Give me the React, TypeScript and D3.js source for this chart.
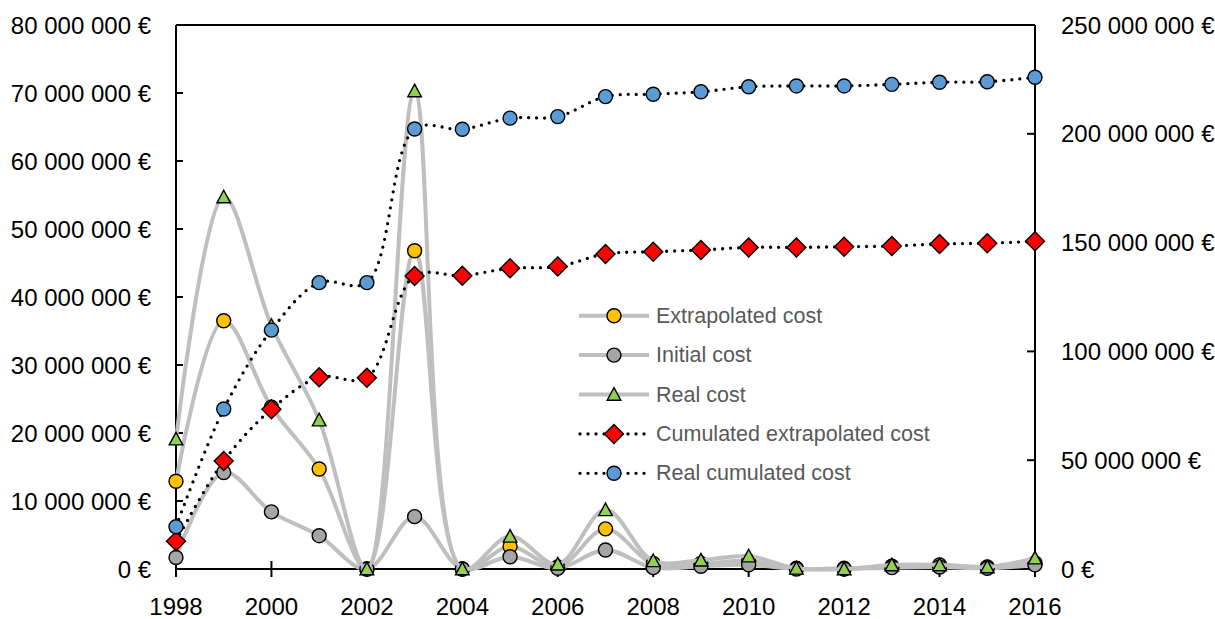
import React from "react";
import * as d3 from "d3";

const years = [1998, 1999, 2000, 2001, 2002, 2003, 2004, 2005, 2006, 2007, 2008, 2009, 2010, 2011, 2012, 2013, 2014, 2015, 2016];
// Values in millions of euros
const extrapolatedCost = [12.9, 36.5, 23.8, 14.7, 0, 46.8, 0, 3.3, 0.3, 5.9, 0.8, 0.8, 1.2, 0.1, 0.1, 0.4, 0.6, 0.3, 0.9];
const initialCost = [1.7, 14.2, 8.4, 4.9, 0, 7.7, 0, 1.8, 0.1, 2.8, 0.2, 0.4, 0.6, 0, 0, 0.2, 0.3, 0.1, 0.6];
const realCost = [19.1, 54.7, 35.8, 21.9, 0, 70.3, 0, 4.8, 0.7, 8.7, 1.2, 1.3, 1.9, 0.1, 0, 0.6, 0.6, 0.3, 1.6];
const cumulatedExtrapolated = [12.7, 49.6, 73.4, 88.1, 87.9, 134.7, 134.8, 138.2, 139.0, 144.8, 145.8, 146.6, 147.8, 147.8, 148.1, 148.4, 149.4, 149.7, 150.6];
const realCumulated = [19.4, 73.5, 109.8, 131.6, 131.6, 202.2, 202.1, 207.2, 207.9, 217.1, 218.2, 219.3, 221.6, 222.0, 222.0, 222.7, 223.7, 223.9, 226.0];

const leftTicks = [0, 10, 20, 30, 40, 50, 60, 70, 80];
const rightTicks = [0, 50, 100, 150, 200, 250];
const xTicks = [1998, 2000, 2002, 2004, 2006, 2008, 2010, 2012, 2014, 2016];

const legendItems = [
  { label: "Extrapolated cost", kind: "solid", marker: "circle", fill: "#FFC000" },
  { label: "Initial cost", kind: "solid", marker: "circle", fill: "#A5A5A5" },
  { label: "Real cost", kind: "solid", marker: "triangle", fill: "#92D050" },
  { label: "Cumulated extrapolated cost", kind: "dotted", marker: "diamond", fill: "#FF0000" },
  { label: "Real cumulated cost", kind: "dotted", marker: "circle", fill: "#5B9BD5" },
];

const fmt = (v: number) => {
  const s = d3.format(",")(v * 1e6).replace(/,/g, " ");
  return s + " €";
};

function Marker({ type, x, y, fill }: { type: string; x: number; y: number; fill: string }) {
  if (type === "circle") return <circle cx={x} cy={y} r={7} fill={fill} stroke="#000" strokeWidth={1.4} />;
  if (type === "triangle") {
    const s = 6.8;
    return <path d={`M${x},${y - s}L${x + s},${y + s * 0.85}L${x - s},${y + s * 0.85}Z`} fill={fill} stroke="#000" strokeWidth={1.4} />;
  }
  const d = 9.5;
  return <path d={`M${x},${y - d}L${x + d},${y}L${x},${y + d}L${x - d},${y}Z`} fill={fill} stroke="#000" strokeWidth={1.4} />;
}

export default function App() {
  const W = 1215, H = 619;
  const x = d3.scaleLinear().domain([1998, 2016]).range([176, 1035]);
  const yL = d3.scaleLinear().domain([0, 80]).range([569, 25]);
  const yR = d3.scaleLinear().domain([0, 250]).range([569, 25]);
  const curve = d3.curveCatmullRom.alpha(0.5);

  const lineL = d3.line<number>().x((_, i) => x(years[i])).y((d) => yL(d)).curve(curve);
  const lineR = d3.line<number>().x((_, i) => x(years[i])).y((d) => yR(d)).curve(curve);

  const primary = [
    { data: extrapolatedCost, marker: "circle", fill: "#FFC000" },
    { data: initialCost, marker: "circle", fill: "#A5A5A5" },
    { data: realCost, marker: "triangle", fill: "#92D050" },
  ];
  const secondary = [
    { data: cumulatedExtrapolated, marker: "diamond", fill: "#FF0000" },
    { data: realCumulated, marker: "circle", fill: "#5B9BD5" },
  ];

  const font = "'Liberation Sans', Arial, sans-serif";

  return (
    <svg width={W} height={H} style={{ position: "absolute", left: 0, top: 0, background: "#fff" }} fontFamily={font}>
      {/* frame / axes */}
      <line x1={176} x2={1035} y1={25} y2={25} stroke="#000" strokeWidth={2} />
      <line x1={176} x2={176} y1={25} y2={569} stroke="#000" strokeWidth={2} />
      <line x1={1035} x2={1035} y1={25} y2={569} stroke="#000" strokeWidth={2} />
      <line x1={176} x2={1035} y1={569} y2={569} stroke="#000" strokeWidth={2} />
      {leftTicks.map((t) => (
        <g key={"l" + t}>
          <line x1={176} x2={183} y1={yL(t)} y2={yL(t)} stroke="#000" strokeWidth={2} />
          <text x={151} y={yL(t)} textAnchor="end" dominantBaseline="central" fontSize={24} fill="#000">{fmt(t)}</text>
        </g>
      ))}
      {rightTicks.map((t) => (
        <g key={"r" + t}>
          <line x1={1027} x2={1035} y1={yR(t)} y2={yR(t)} stroke="#000" strokeWidth={2} />
          <text x={1061} y={yR(t)} textAnchor="start" dominantBaseline="central" fontSize={24} fill="#000">{fmt(t)}</text>
        </g>
      ))}
      {xTicks.map((t) => (
        <g key={"x" + t}>
          <line x1={x(t)} x2={x(t)} y1={561} y2={577} stroke="#000" strokeWidth={2} />
          <text x={x(t)} y={615} textAnchor="middle" fontSize={24} fill="#000">{t}</text>
        </g>
      ))}

      {/* primary series */}
      {primary.map((s, si) => (
        <g key={"p" + si}>
          <path d={lineL(s.data) || ""} fill="none" stroke="#BFBFBF" strokeWidth={4} />
          {s.data.map((v, i) => (
            <Marker key={i} type={s.marker} x={x(years[i])} y={yL(v)} fill={s.fill} />
          ))}
        </g>
      ))}

      {/* secondary series */}
      {secondary.map((s, si) => (
        <g key={"s" + si}>
          <path d={lineR(s.data) || ""} fill="none" stroke="#000" strokeWidth={3.3} strokeDasharray="0 8" strokeLinecap="round" />
          {s.data.map((v, i) => (
            <Marker key={i} type={s.marker} x={x(years[i])} y={yR(v)} fill={s.fill} />
          ))}
        </g>
      ))}

      {/* legend */}
      {legendItems.map((it, i) => {
        const ly = 315.7 + i * 39.4;
        return (
          <g key={"lg" + i}>
            {it.kind === "solid" ? (
              <line x1={579} x2={649} y1={ly} y2={ly} stroke="#BFBFBF" strokeWidth={4} />
            ) : (
              <line x1={580} x2={650} y1={ly} y2={ly} stroke="#000" strokeWidth={3.3} strokeDasharray="0 8" strokeLinecap="round" />
            )}
            <Marker type={it.marker} x={614} y={ly} fill={it.fill} />
            <text x={656} y={ly} dominantBaseline="central" fontSize={21.5} fill="#595959">{it.label}</text>
          </g>
        );
      })}
    </svg>
  );
}
